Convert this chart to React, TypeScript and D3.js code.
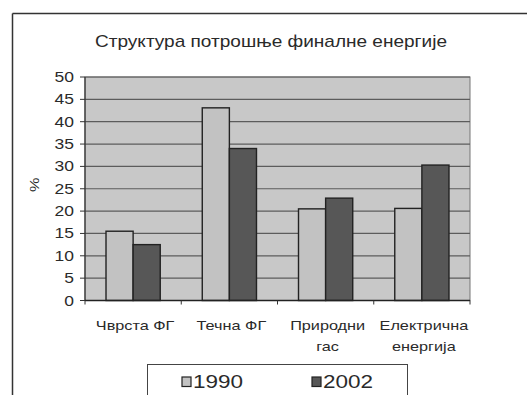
import React from "react";
import * as d3 from "d3";

const title = "Структура потрошње финалне енергије";
const categories = [["Чврста ФГ"], ["Течна ФГ"], ["Природни", "гас"], ["Електрична", "енергија"]];
const seriesNames = ["1990", "2002"];
const values1990 = [15.5, 43.1, 20.5, 20.6];
const values2002 = [12.5, 34.0, 22.9, 30.3];
const yTicks = [0, 5, 10, 15, 20, 25, 30, 35, 40, 45, 50];

const W = 527;
const H = 395;
const plot = { left: 85, right: 470, top: 77, bottom: 300.5 };
const font = "'Liberation Sans', Arial, sans-serif";
const colors = ["#c2c2c2", "#575757"];
const textColor = "#2a2a2a";
const stretch = 1.25;

type STextProps = {
  x: number;
  y: number;
  size: number;
  anchor?: "start" | "middle" | "end";
  rotate?: number;
  children: React.ReactNode;
};

// Text drawn with a slightly widened glyph shape.
function SText({ x, y, size, anchor = "start", rotate = 0, children }: STextProps) {
  return (
    <g transform={`translate(${x},${y}) rotate(${rotate}) scale(${stretch},1)`}>
      <text x={0} y={0} textAnchor={anchor} fontFamily={font} fontSize={size} fill={textColor}>
        {children}
      </text>
    </g>
  );
}

export default function App() {
  const x = d3
    .scaleBand<number>()
    .domain(d3.range(categories.length))
    .range([plot.left, plot.right]);
  const y = d3.scaleLinear().domain([0, 50]).range([plot.bottom, plot.top]);
  const barW = x.bandwidth() / 3.55;
  const series = [values1990, values2002];

  return (
    <svg
      width={W}
      height={H}
      style={{ position: "absolute", left: 0, top: 0, background: "#fff" }}
    >
      {/* chart frame */}
      <line x1={12.5} y1={13.5} x2={W} y2={13.5} stroke="#333" strokeWidth={1.5} />
      <line x1={12.5} y1={13.5} x2={12.5} y2={H} stroke="#333" strokeWidth={1.5} />

      <text
        x={271}
        y={47}
        textAnchor="middle"
        fontFamily={font}
        fontSize={17}
        fill={textColor}
        textLength={352}
        lengthAdjust="spacingAndGlyphs"
      >
        {title}
      </text>

      {/* plot area */}
      <rect
        x={plot.left}
        y={plot.top}
        width={plot.right - plot.left}
        height={plot.bottom - plot.top}
        fill="#c8c8c8"
        stroke="#777"
        strokeWidth={1}
      />
      {yTicks.slice(1).map((t) => (
        <line
          key={t}
          x1={plot.left}
          x2={plot.right}
          y1={y(t)}
          y2={y(t)}
          stroke="#5c5c5c"
          strokeWidth={1.2}
        />
      ))}

      {/* bars */}
      {categories.map((_, i) => {
        const cx = (x(i) as number) + x.bandwidth() / 2;
        return series.map((vals, s) => (
          <rect
            key={`${i}-${s}`}
            x={cx - barW + s * barW}
            y={y(vals[i])}
            width={barW}
            height={y(0) - y(vals[i])}
            fill={colors[s]}
            stroke="#222"
            strokeWidth={1.4}
          />
        ));
      })}

      {/* y axis */}
      <line x1={plot.left} x2={plot.left} y1={plot.top} y2={plot.bottom} stroke="#333" strokeWidth={1.2} />
      {yTicks.map((t) => (
        <g key={t}>
          <line x1={plot.left - 5} x2={plot.left} y1={y(t)} y2={y(t)} stroke="#333" />
          <SText x={plot.left - 11} y={y(t) + 5} size={14} anchor="end">
            {t}
          </SText>
        </g>
      ))}
      <SText x={39} y={(plot.top + plot.bottom) / 2 - 4} size={13} anchor="middle" rotate={-90}>
        %
      </SText>

      {/* x axis */}
      <line x1={plot.left} x2={plot.right} y1={plot.bottom} y2={plot.bottom} stroke="#222" strokeWidth={1.5} />
      {d3.range(categories.length + 1).map((i) => {
        const xx = plot.left + i * x.bandwidth();
        return <line key={i} x1={xx} x2={xx} y1={plot.bottom} y2={plot.bottom + 4} stroke="#333" />;
      })}
      {categories.map((lines, i) => {
        const cx = (x(i) as number) + x.bandwidth() / 2 + 2;
        return lines.map((ln, k) => (
          <SText key={`${i}-${k}`} x={cx} y={330 + k * 21} size={13} anchor="middle">
            {ln}
          </SText>
        ));
      })}

      {/* legend */}
      <rect x={147.5} y={364.5} width={260} height={40} fill="#fff" stroke="#444" strokeWidth={1} />
      {seriesNames.map((name, s) => {
        const lx = 182 + s * 130;
        return (
          <g key={name}>
            <rect x={lx} y={377} width={9} height={9.5} fill={colors[s]} stroke="#222" strokeWidth={1.2} />
            <SText x={lx + 11} y={388} size={18}>
              {name}
            </SText>
          </g>
        );
      })}
    </svg>
  );
}
